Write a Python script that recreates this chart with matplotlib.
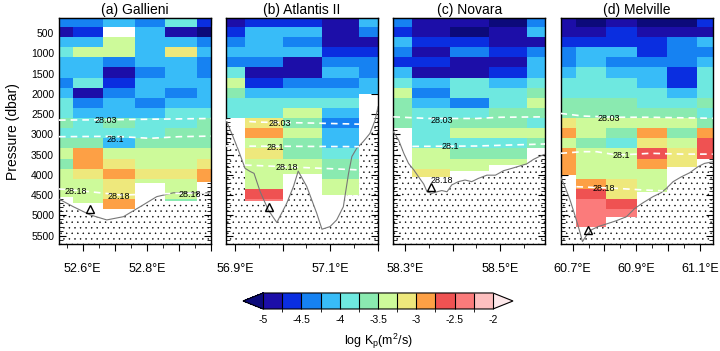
import numpy as np
import matplotlib
matplotlib.use("Agg")
import matplotlib.pyplot as plt
from matplotlib.colors import ListedColormap, BoundaryNorm
from matplotlib.cm import ScalarMappable

plt.rcParams["font.family"] = ["Liberation Sans", "DejaVu Sans"]
plt.rcParams["hatch.linewidth"] = 0.3

nan = np.nan

# pressure layers (dbar), 250 dbar thick
P_EDGES = np.arange(100, 5601, 250)

LEVELS = np.arange(-5.0, -1.99, 0.25)
COLORS = ["#1c0ea8", "#0a2ee0", "#1682f2", "#38bcf8", "#6ee8e0", "#8aeab0",
          "#cdfa9a", "#eee87c", "#fda045", "#ef5252", "#fb7b7b", "#fdbfbf"]
COLOR_UNDER = "#0c0a7a"
COLOR_OVER = "#fde8ea"

TITLES = ["(a) Gallieni", "(b) Atlantis II", "(c) Novara", "(d) Melville"]
XLIMS = [(52.526, 53.0), (56.881, 57.201), (58.275, 58.595), (60.663, 61.139)]
XLABELED = [[52.6, 52.8], [56.9, 57.1], [58.3, 58.5], [60.7, 60.9, 61.1]]

# station column edges (deg E)
A_LON = [52.526, 52.571, 52.664, 52.763, 52.857, 52.956, 53.0]
B_LON = [56.881, 56.921, 57.002, 57.083, 57.161, 57.201]
C_LON = [58.275, 58.315, 58.395, 58.476, 58.557, 58.595]
D_LON = [60.663, 60.710, 60.806, 60.902, 60.996, 61.091, 61.139]

# deepest observation of each column (dbar)
A_BOTTOM = [4550, 4700, 4880, 4200, 4650, 4170]
B_BOTTOM = [2600, 4650, 3980, 4500, 2000]
C_BOTTOM = [2900, 4050, 3900, 3760, 3430]
D_BOTTOM = [4000, 5280, 5050, 4420, 3800, 3620]

# log Kp per 250 dbar layer, from the top
A_KP = [
    [-4.4, -4.9, -4.1, -3.8, -4.1, -4.2, -4.3, -4.2, -4.0, -3.8, -3.7, -3.9, -3.7, -3.4, -3.6, -3.3, -3.4, -3.4],
    [-4.3, -4.7, -4.1, -3.5, -4.1, -4.1, -4.0, -4.8, -4.3, -4.1, -3.8, -3.9, -3.7, -2.9, -2.8, -3.1, -3.3, -3.4, -3.5],
    [-4.2, nan, -3.3, -3.5, -4.4, -4.8, -4.6, -4.4, -4.2, -4.1, -3.7, -3.9, -4.1, -3.4, -3.2, -2.9, -3.1, -3.2, -3.0],
    [-4.3, -4.1, -4.1, -4.2, -4.2, -4.3, -4.1, -4.2, -4.4, -4.1, -3.8, -3.9, -3.6, -3.5, -3.3, -3.2, -3.4],
    [-3.9, -4.8, -4.1, -3.2, -4.1, -4.1, -4.2, -4.3, -4.1, -3.9, -3.8, -3.7, -3.6, -3.4, -3.4, -3.2, -3.3, -3.5, -3.6],
    [-4.6, -5.1, -4.4, -4.2, -4.3, -4.4, -4.2, -4.2, -4.1, -3.9, -3.7, -3.6, -3.7, -3.4, -3.1, -2.9, -3.0],
]
B_KP = [
    [-5.0, -4.6, -4.4, -4.2, -4.3, -3.9, -3.4, -3.7, -4.0, -3.9],
    [-4.7, -4.2, -4.1, -4.2, -4.4, -4.8, -4.6, -4.2, -4.0, -3.9, -3.2, -3.0, -3.4, -3.2, -3.3, -3.4, -3.3, -2.6, -2.4],
    [-4.6, -4.2, -4.4, -4.1, -5.0, -4.8, -4.4, -4.1, -3.9, -3.3, -3.6, -3.4, -3.6, -3.7, -3.5, -3.3],
    [-5.0, -4.8, -4.8, -4.6, -4.4, -4.2, -4.3, -4.1, -3.9, -4.2, -4.3, -4.1, -4.2, -3.9, -3.7, -3.6, -3.5, -3.4],
    [-4.1, -4.3, -4.9, -4.6, -4.4, -4.4, -4.2, -4.1],
]
C_KP = [
    [-4.5, -4.6, -4.1, -4.4, -4.7, -4.2, -3.8, -3.5, -3.7, -3.6, -3.6],
    [-4.8, -5.0, -4.7, -4.9, -4.6, -4.9, -4.1, -4.4, -4.1, -3.9, -3.9, -3.8, -3.9, -3.5, -3.4, -3.1],
    [-5.0, -5.1, -4.6, -4.4, -4.9, -4.8, -4.0, -3.9, -4.3, -4.0, -3.7, -3.5, -3.8, -3.7, -3.5, -3.4],
    [-5.1, -5.0, -4.8, -4.6, -4.8, -4.6, -4.2, -4.0, -3.9, -3.7, -3.7, -3.5, -3.8, -3.6, -3.4],
    [-4.3, -4.1, -4.9, -4.5, -4.2, -4.1, -3.9, -3.6, -3.5, -3.6, -3.9, -3.4, -3.6],
]
D_KP = [
    [-5.0, -4.9, -4.6, -4.4, -4.5, -4.2, -3.9, -3.8, -3.7, -3.6, -3.1, -2.9, -3.3, -3.0, -3.0, -2.9],
    [-5.1, -4.9, -4.6, -4.2, -4.1, -4.0, -3.9, -3.8, -3.7, -3.6, -3.5, -3.4, -3.6, -3.4, -3.4, -3.4, -3.0, -2.7, -2.4, -2.4, -2.3],
    [-4.9, -4.7, -4.6, -4.2, -4.3, -4.1, -3.9, -3.9, -3.7, -3.6, -3.5, -3.6, -3.8, -3.5, -3.4, -3.4, -3.1, -3.2, -2.7, -2.5],
    [-5.1, -4.9, -4.7, -4.6, -4.3, -4.2, -4.1, -3.9, -3.8, -3.6, -3.5, -2.9, -3.1, -2.6, -2.9, -3.3, -3.5, -3.4],
    [-5.1, -4.8, -4.5, -4.3, -4.4, -4.6, -4.7, -4.2, -4.0, -3.7, -3.5, -3.6, -3.4, -3.2, -3.1],
    [-4.6, -4.9, -4.2, -4.5, -4.2, -4.0, -3.8, -3.9, -3.7, -3.8, -3.6, -2.8, -2.7, -2.6],
]

# bottom topography
A_TOPO_LON = [52.526, 52.571, 52.623, 52.675, 52.727, 52.779, 52.831, 52.883, 52.946, 53.0]
A_TOPO_P = [4600, 4790, 4990, 5115, 5035, 4790, 4540, 4445, 4445, 4445]
B_TOPO_LON = [56.881, 56.893, 56.907, 56.921, 56.932, 56.940, 56.953, 56.970, 56.988, 57.009,
              57.023, 57.033, 57.051, 57.072, 57.083, 57.100, 57.114, 57.128, 57.139, 57.146,
              57.156, 57.170, 57.184, 57.195, 57.201]
B_TOPO_P = [2650, 2980, 3390, 3840, 3920, 3965, 4420, 4870, 5180, 4700,
            4290, 3910, 4290, 4950, 5345, 5280, 5115, 4790, 3965, 3550,
            3350, 3180, 2980, 2650, 2320]
C_TOPO_LON = [58.275, 58.286, 58.297, 58.307, 58.318, 58.328, 58.339, 58.346, 58.356, 58.367,
              58.377, 58.388, 58.398, 58.412, 58.426, 58.440, 58.454, 58.472, 58.490, 58.507,
              58.525, 58.542, 58.556, 58.570, 58.584, 58.595]
C_TOPO_P = [2935, 3140, 3470, 3720, 3880, 4050, 4230, 4420, 4460, 4420,
            4390, 4420, 4250, 4170, 4130, 4170, 4090, 4010, 4010, 3900,
            3840, 3780, 3730, 3620, 3540, 3490]
D_TOPO_LON = [60.662, 60.676, 60.692, 60.707, 60.721, 60.731, 60.744, 60.759, 60.780, 60.806,
              60.837, 60.869, 60.895, 60.921, 60.952, 60.978, 60.994, 61.015, 61.041, 61.067,
              61.093, 61.113, 61.139]
D_TOPO_P = [4050, 4290, 4620, 4990, 5360, 5650, 5490, 5360, 5280, 5215,
            5135, 5035, 4830, 4690, 4540, 4440, 4335, 4170, 4050, 3950,
            3800, 3720, 3680]

# deepest station marker (lon, dbar)
MARKERS = [(52.623, 4850), (56.972, 4800), (58.355, 4295), (60.749, 5365)]

# isopycnals: sigma label -> (lon, dbar)
A_ISO = {"28.03": ([52.526, 52.70, 53.0], [2650, 2640, 2610]),
         "28.1": ([52.526, 52.70, 52.81, 52.90, 53.0], [3060, 3050, 3100, 3060, 3045]),
         "28.18": ([52.526, 52.60, 52.72, 52.89, 53.0], [4350, 4400, 4500, 4460, 4440])}
B_ISO = {"28.03": ([56.881, 56.95, 57.05, 57.161], [2650, 2700, 2720, 2750]),
         "28.1": ([56.881, 57.161], [3290, 3306]),
         "28.18": ([56.921, 57.161], [3760, 3880])}
C_ISO = {"28.03": ([58.275, 58.35, 58.45, 58.50, 58.595], [2570, 2610, 2610, 2580, 2570]),
         "28.1": ([58.315, 58.45, 58.595], [3300, 3290, 3240])}
D_ISO = {"28.03": ([60.662, 60.733, 60.837, 60.942, 61.139], [2485, 2550, 2580, 2580, 2605]),
         "28.1": ([60.662, 60.733, 60.775, 60.837, 60.90, 60.942, 61.046, 61.139],
                  [3470, 3430, 3430, 3510, 3490, 3470, 3490, 3490]),
         "28.18": ([60.712, 60.837, 60.921, 60.983], [4295, 4335, 4375, 4395])}

# contour label positions (text, lon, dbar)
A_LAB = [("28.03", 52.673, 2650), ("28.1", 52.701, 3125), ("28.18", 52.579, 4410),
         ("28.18", 52.714, 4545), ("28.18", 52.935, 4475)]
B_LAB = [("28.03", 56.995, 2730), ("28.1", 56.984, 3320), ("28.18", 57.010, 3815)]
C_LAB = [("28.03", 58.377, 2650), ("28.1", 58.396, 3305), ("28.18", 58.377, 4130)]
D_LAB = [("28.03", 60.814, 2615), ("28.1", 60.853, 3528), ("28.18", 60.798, 4335)]

PANELS = [
    (A_LON, A_BOTTOM, A_KP, A_TOPO_LON, A_TOPO_P, A_ISO, A_LAB),
    (B_LON, B_BOTTOM, B_KP, B_TOPO_LON, B_TOPO_P, B_ISO, B_LAB),
    (C_LON, C_BOTTOM, C_KP, C_TOPO_LON, C_TOPO_P, C_ISO, C_LAB),
    (D_LON, D_BOTTOM, D_KP, D_TOPO_LON, D_TOPO_P, D_ISO, D_LAB),
]

cmap = ListedColormap(COLORS)
cmap.set_under(COLOR_UNDER)
cmap.set_over(COLOR_OVER)
cmap.set_bad("white")
norm = BoundaryNorm(LEVELS, cmap.N)

fig = plt.figure(figsize=(7.2, 3.51), dpi=100)
lefts = [0.0819, 0.3139, 0.5463, 0.7788]
nbin = len(P_EDGES) - 1

for i, (lons, bottoms, kp, tlon, tp, iso, labs) in enumerate(PANELS):
    ax = fig.add_axes([lefts[i], 0.3048, 0.2111, 0.643])
    ymax = 5710
    # seafloor
    ax.fill_between(tlon, tp, ymax + 200, facecolor="white", edgecolor="black",
                    hatch="...", linewidth=0, zorder=1)
    # station columns
    for k in range(len(lons) - 1):
        vals = np.array(kp[k] + [nan] * (nbin - len(kp[k])), dtype=float)
        vals = np.ma.masked_invalid(vals)
        yed = np.minimum(P_EDGES, bottoms[k])
        ax.pcolormesh([lons[k], lons[k + 1]], yed, vals[:, None], cmap=cmap, norm=norm,
                      shading="flat", edgecolors="none", zorder=2)
    ax.plot(tlon, tp, color="#777777", lw=0.8, zorder=3)
    for name, (xs, ps) in iso.items():
        ax.plot(xs, ps, color="white", lw=1.2, ls=(0, (4, 3)), zorder=4)
    for txt, x, p in labs:
        ax.text(x, p, txt, fontsize=6.5, ha="center", va="center", zorder=5)
    mx, mp = MARKERS[i]
    ax.plot(mx, mp, marker="^", ms=6, mfc="none", mec="black", mew=1.0, zorder=6)

    ax.set_xlim(*XLIMS[i])
    ax.set_ylim(ymax, 137)
    ax.set_title(TITLES[i], fontsize=10, pad=3)

    x0, x1 = XLIMS[i]
    major = np.round(np.arange(np.ceil(x0 * 10) / 10, x1 + 1e-6, 0.1), 2)
    minor = np.round(np.arange(np.ceil(x0 * 20) / 20, x1 + 1e-6, 0.05), 2)
    ax.set_xticks(major)
    ax.set_xticks(minor, minor=True)
    ax.set_xticklabels([f"{v:.1f}°E" if any(abs(v - l) < 1e-6 for l in XLABELED[i]) else ""
                        for v in major], fontsize=9)
    ax.tick_params(axis="x", which="major", direction="out", length=5, width=0.8, pad=9)
    ax.tick_params(axis="x", which="minor", direction="out", length=3, width=0.6)
    top = ax.secondary_xaxis("top")
    top.set_xticks(major)
    top.set_xticks(minor, minor=True)
    top.tick_params(which="major", direction="in", length=5, width=0.8, labeltop=False)
    top.tick_params(which="minor", direction="in", length=3, width=0.6)

    ax.set_yticks(np.arange(500, 5501, 500))
    ax.set_yticks(np.arange(2600, 5701, 100), minor=True)
    ax.tick_params(axis="y", which="major", direction="in", length=5, width=0.8,
                   left=True, right=True, labelsize=7.5)
    ax.tick_params(axis="y", which="minor", direction="in", length=3, width=0.6,
                   left=True, right=True)
    if i == 0:
        ax.set_ylabel("Pressure (dbar)", fontsize=10, labelpad=8)
    else:
        ax.tick_params(axis="y", labelleft=False)
    for s in ax.spines.values():
        s.set_linewidth(1.0)

cax = fig.add_axes([0.3375, 0.1197, 0.375, 0.0456])
cb = fig.colorbar(ScalarMappable(norm=norm, cmap=cmap), cax=cax, orientation="horizontal",
                  extend="both", drawedges=True, extendfrac=0.087)
cb.set_ticks(np.arange(-5.0, -1.99, 0.5))
cb.set_ticklabels(["-5", "-4.5", "-4", "-3.5", "-3", "-2.5", "-2"])
cb.ax.tick_params(length=0, labelsize=7.5, pad=4)
cb.outline.set_linewidth(0.8)
cb.dividers.set_linewidth(0.8)
cb.set_label("log K$_\\mathregular{p}$(m$^\\mathregular{2}$/s)", fontsize=9, labelpad=5)

fig.savefig("out.png", dpi=100)
